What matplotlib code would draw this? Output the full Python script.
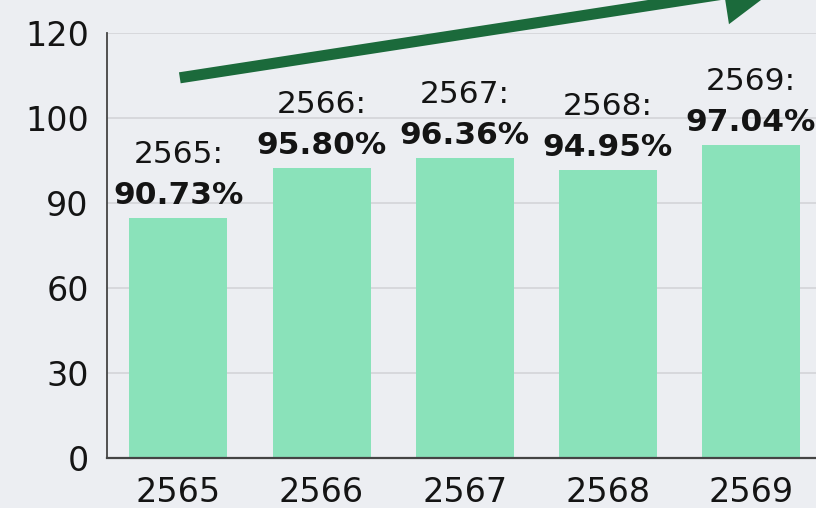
import numpy as np
import matplotlib
matplotlib.use("Agg")
import matplotlib.pyplot as plt

# data
years = ['2565', '2566', '2567', '2568', '2569']
bar_heights = [84.7, 94.1, 95.3, 93.9, 96.8]
label_years = ['2565:', '2566:', '2567:', '2568:', '2569:']
label_pcts = ['90.73%', '95.80%', '96.36%', '94.95%', '97.04%']
y_ticks = [0, 30, 60, 90, 100, 120]

bg = '#eceef2'
bar_color = '#8ae2ba'
arrow_color = '#1b6a3b'

# the y axis spaces its ticks evenly, so map values piecewise onto tick positions
tick_pos = np.arange(len(y_ticks), dtype=float)

def fwd(v):
    return np.interp(v, y_ticks, tick_pos)

def inv(p):
    return np.interp(p, tick_pos, y_ticks)

fig = plt.figure(figsize=(8.16, 5.08), dpi=100, facecolor=bg)
ax = fig.add_axes([0.131, 0.0984, 0.869, 0.8366])
ax.set_facecolor(bg)
ax.set_yscale('function', functions=(fwd, inv))

x = np.arange(len(years))
bars = ax.bar(x, bar_heights, width=0.685, color=bar_color, zorder=2)

ax.set_ylim(0, 120)
ax.set_xlim(-0.5, 4.455)
ax.set_yticks(y_ticks)
ax.set_yticklabels([str(t) for t in y_ticks])
ax.set_xticks(x)
ax.set_xticklabels(years)
ax.tick_params(axis='both', length=0, labelsize=24, colors='#141414')
ax.tick_params(axis='y', pad=13)
ax.tick_params(axis='x', pad=13)
ax.yaxis.grid(True, color='#d3d4d8', linewidth=1.2, zorder=0)
ax.set_axisbelow(True)

for side in ['top', 'right']:
    ax.spines[side].set_visible(False)
ax.spines['left'].set_color('#444444')
ax.spines['bottom'].set_color('#444444')
ax.spines['left'].set_linewidth(1.3)
ax.spines['bottom'].set_linewidth(1.6)

for b, ylab, pct in zip(bars, label_years, label_pcts):
    cx = b.get_x() + b.get_width() / 2
    top = b.get_height()
    ax.annotate(pct, (cx, top), xytext=(0, 10), textcoords='offset points',
                ha='center', va='baseline', fontsize=22.5, fontweight='bold',
                color='#141414', annotation_clip=False)
    ax.annotate(ylab, (cx, top), xytext=(0, 39.5), textcoords='offset points',
                ha='center', va='baseline', fontsize=22.5, color='#141414',
                annotation_clip=False)

# trend arrow
fig.patches.append(matplotlib.patches.FancyArrowPatch(
    (0.217, 0.846), (0.96, 1.03), transform=fig.transFigure,
    arrowstyle='-|>,head_length=13,head_width=7', mutation_scale=2.2,
    color=arrow_color, linewidth=8, capstyle='butt', joinstyle='miter'))

fig.savefig('out.png', dpi=100, facecolor=bg)
